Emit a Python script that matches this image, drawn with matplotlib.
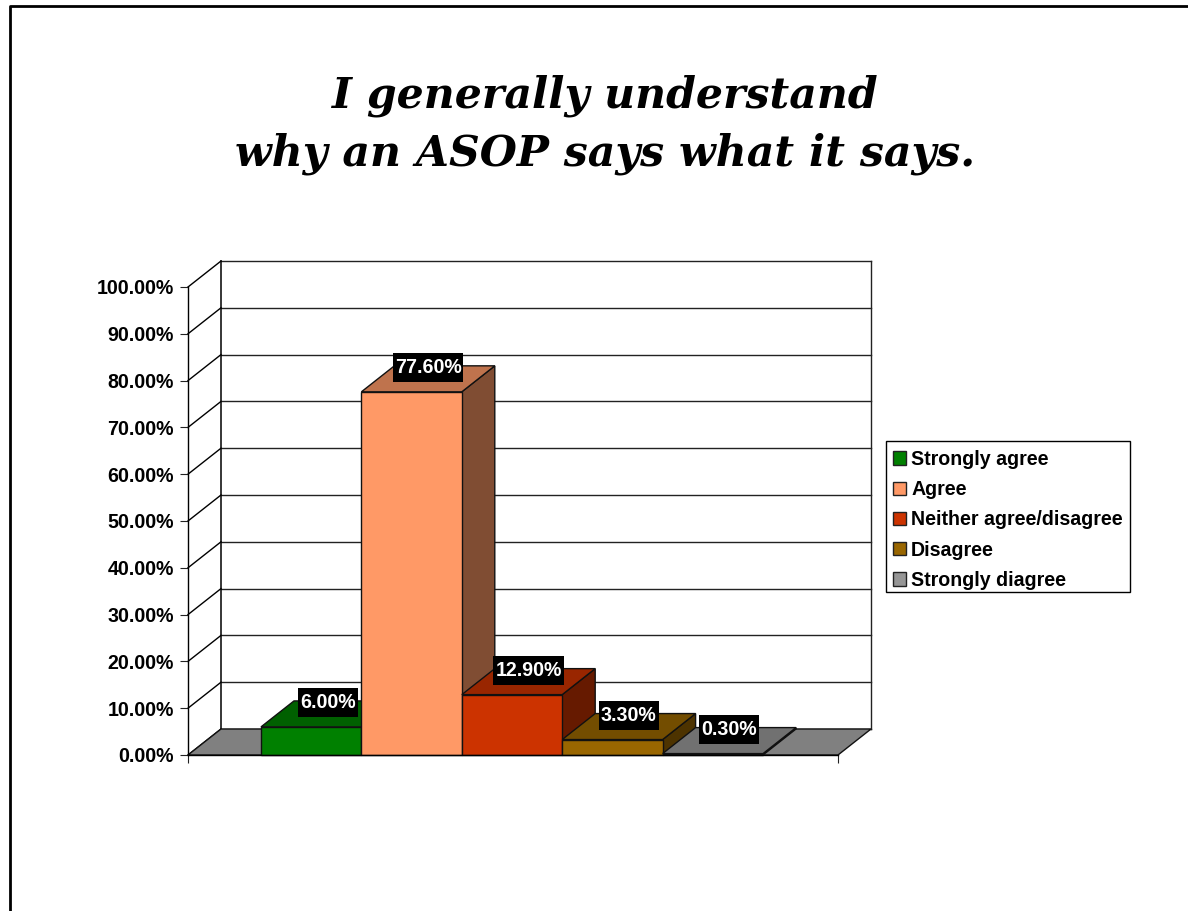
import matplotlib
matplotlib.use('Agg')
import matplotlib.pyplot as plt
from matplotlib.colors import to_rgb
from matplotlib.lines import Line2D
from matplotlib.patches import Patch, Polygon, Rectangle
from matplotlib.path import Path

# Survey values
categories = ['Strongly agree', 'Agree', 'Neither agree/disagree', 'Disagree', 'Strongly diagree']
values = [6.0, 77.6, 12.9, 3.3, 0.3]
colors = ['#008000', '#FF9966', '#CC3300', '#996600', '#969696']
y_ticks = [0, 10, 20, 30, 40, 50, 60, 70, 80, 90, 100]
title = 'I generally understand\nwhy an ASOP says what it says.'

W, H = 1188, 911
plt.rcParams['font.family'] = ['Liberation Sans', 'DejaVu Sans']

fig = plt.figure(figsize=(W / 100, H / 100), dpi=100)
ax = fig.add_axes([188 / W, (H - 755) / H, 650 / W, 468 / H])
x0, x1 = -0.727, 5.747
ax.set_xlim(x0, x1)
ax.set_ylim(0, 100)

# depth of the fake 3d in data units
dx = 33 / 100.4
dy = 26 / 4.68


def shade(color, k):
    return tuple(c * k for c in to_rgb(color))


def para(points, color, z):
    ax.add_patch(Polygon(points, closed=True, facecolor=color, edgecolor='#111111',
                         linewidth=1.0, clip_on=False, zorder=z))


def label_box(x, y, w, h, mutation_size):
    # black label box, taller than the text layout box
    px, py = 2.0, 5.0
    return Path([(x - px, y - py), (x + w + px, y - py), (x + w + px, y + h + py),
                 (x - px, y + h + py), (x - px, y - py)], closed=True)


# walls and floor
for t in y_ticks:
    ax.plot([x0, x0 + dx], [t, t + dy], color='black', lw=1.0, clip_on=False, zorder=1)
    ax.plot([x0 + dx, x1 + dx], [t + dy, t + dy], color='#222222', lw=1.0, clip_on=False, zorder=1)
ax.plot([x0 + dx, x0 + dx], [dy, 100 + dy], color='black', lw=1.1, clip_on=False, zorder=1)
ax.plot([x1 + dx, x1 + dx], [dy, 100 + dy], color='#222222', lw=1.0, clip_on=False, zorder=1)
para([(x0, 0), (x1, 0), (x1 + dx, dy), (x0 + dx, dy)], '#808080', 2)

# bars, left to right so each one hides the side of the previous
for i, (v, c) in enumerate(zip(values, colors)):
    z = 3 + i
    para([(i + 1, 0), (i + 1 + dx, dy), (i + 1 + dx, v + dy), (i + 1, v)], shade(c, 0.5), z)
    para([(i, v), (i + 1, v), (i + 1 + dx, v + dy), (i + dx, v + dy)], shade(c, 0.75), z)
    ax.add_patch(Rectangle((i, 0), 1, v, facecolor=c, edgecolor='#111111', linewidth=1.0,
                           clip_on=False, zorder=z))

for i, v in enumerate(values):
    ax.text(i + 0.5 + dx / 2, v + dy - 0.35, f'{v:.2f}%', color='white', fontsize=14.1, fontweight='bold',
            ha='center', va='center', zorder=20,
            bbox=dict(boxstyle=label_box, facecolor='black', edgecolor='none'))

ax.set_yticks(y_ticks)
ax.set_yticklabels([f'{t:.2f}%' for t in y_ticks], fontsize=14.1, fontweight='bold')
ax.set_xticks([x0, x1])
ax.set_xticklabels([])
ax.tick_params(axis='both', length=5.5, width=0.8, pad=4.5, color='#222222')
ax.patch.set_alpha(0)
for side in ['top', 'right']:
    ax.spines[side].set_visible(False)
for side in ['left', 'bottom']:
    ax.spines[side].set_linewidth(1.0)
    ax.spines[side].set_zorder(15)

# legend frame drawn apart so the rows can sit a little low in it, as in the slide
fig.add_artist(Rectangle((886 / W, (H - 592) / H), 244 / W, 151 / H, transform=fig.transFigure,
                         facecolor='white', edgecolor='black', linewidth=1.0))
handles = [Patch(facecolor=c, edgecolor='#222222', linewidth=1.0) for c in colors]
leg = fig.legend(handles, categories, loc='upper left',
                 bbox_to_anchor=(885 / W, (H - 442) / H), bbox_transform=fig.transFigure,
                 prop={'family': 'Liberation Sans', 'weight': 'bold', 'size': 14.1},
                 frameon=False, borderaxespad=0,
                 handlelength=0.65, handleheight=0.67, handletextpad=0.28,
                 labelspacing=0.575, borderpad=0.4)

fig.text(605 / W, 1 - 124.6 / H, title, ha='center', va='center', family='DejaVu Serif',
         fontsize=30.7, fontweight='bold', style='italic', linespacing=1.455)

# slide border, only top and left show
fig.add_artist(Line2D([10 / W, 10 / W, 1], [0, 1 - 6 / H, 1 - 6 / H], color='black', lw=2))

fig.savefig('out.png', dpi=100)
